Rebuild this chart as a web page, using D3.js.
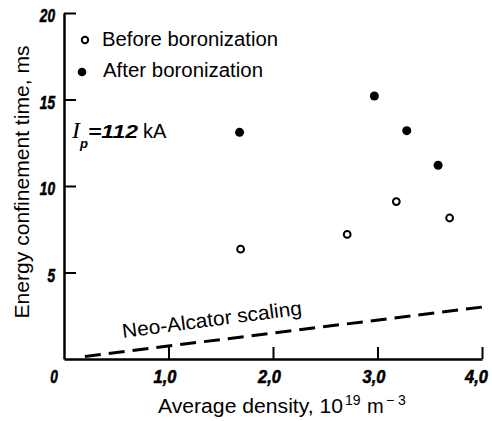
<!DOCTYPE html>
<html>
<head>
<meta charset="utf-8">
<script src="https://cdn.jsdelivr.net/npm/d3@7"></script>
<style>
  html, body { margin: 0; padding: 0; background: #fff; }
  svg { display: block; }
</style>
</head>
<body>
<svg id="chart" width="492" height="421"></svg>
<script>
// ---- data ----
const beforeDensity = [1.69, 2.71, 3.18, 3.69];
const beforeTau     = [6.35, 7.2, 9.1, 8.15];
const afterDensity  = [1.68, 2.97, 3.28, 3.58];
const afterTau      = [13.1, 15.2, 13.2, 11.2];
const neoAlcatorDensity = [0.2, 4.0];
const neoAlcatorTau     = [0.15, 3.0];
const xTicks = [1, 2, 3, 4];
const xTickLabels = ["1,0", "2,0", "3,0", "4,0"];
const yTicks = [5, 10, 15, 20];
const yTickLabels = ["5", "10", "15", "20"];
const legendLabels = ["Before boronization", "After boronization"];

const svg = d3.select("#chart");
svg.append("rect").attr("width", 492).attr("height", 421).attr("fill", "#fff");

const x = d3.scaleLinear().domain([0, 4]).range([64, 482]);
const y = d3.scaleLinear().domain([0, 20]).range([359, 13]);

const tickFont = "'Liberation Sans', Arial, sans-serif";
const textFont = "'Liberation Sans', Arial, sans-serif";
const narrowWidth = s => s.length * 7.6;

function styleTick(sel) {
  sel.attr("font-family", tickFont).attr("font-size", 19)
    .attr("font-weight", "bold").attr("font-style", "italic")
    .attr("fill", "#000").attr("stroke", "#000").attr("stroke-width", 0.6)
    .attr("lengthAdjust", "spacingAndGlyphs")
    .attr("textLength", function () { return narrowWidth(this.textContent); });
}

// x axis
const xAxis = d3.axisBottom(x)
  .tickValues(xTicks)
  .tickFormat((d, i) => xTickLabels[i])
  .tickSizeInner(-12).tickSizeOuter(0).tickPadding(11);
const gx = svg.append("g").attr("transform", `translate(0,${y(0)})`).call(xAxis);
gx.select(".domain").attr("stroke-width", 2.5).attr("stroke", "#000");
gx.selectAll(".tick line").attr("stroke-width", 2).attr("stroke", "#000");
gx.selectAll(".tick text").call(styleTick)
  .attr("dx", (d, i) => i === xTicks.length - 1 ? -6 : -4);

// y axis
const yAxis = d3.axisLeft(y)
  .tickValues(yTicks)
  .tickFormat((d, i) => yTickLabels[i])
  .tickSizeInner(-12).tickSizeOuter(0).tickPadding(9);
const gy = svg.append("g").attr("transform", `translate(${x(0)},0)`).call(yAxis);
gy.select(".domain").attr("stroke-width", 2.5).attr("stroke", "#000");
gy.selectAll(".tick line").attr("stroke-width", 2).attr("stroke", "#000");
gy.selectAll(".tick text").call(styleTick).attr("dy", "0.45em");

// origin label
svg.append("text")
  .attr("x", x(0) - 10).attr("y", y(0) + 24)
  .attr("text-anchor", "middle")
  .text("0")
  .call(styleTick);

// Neo-Alcator dashed line
const line = d3.line().x(d => x(d[0])).y(d => y(d[1]));
svg.append("path")
  .datum(neoAlcatorDensity.map((d, i) => [d, neoAlcatorTau[i]]))
  .attr("d", line)
  .attr("fill", "none").attr("stroke", "#000")
  .attr("stroke-width", 3).attr("stroke-dasharray", "16,8");

// Neo-Alcator label
svg.append("text")
  .attr("transform", `translate(123,338) rotate(-7.5)`)
  .attr("font-family", textFont).attr("font-size", 20)
  .attr("textLength", 181).attr("lengthAdjust", "spacingAndGlyphs")
  .text("Neo-Alcator scaling");

// points
svg.append("g").selectAll("circle")
  .data(afterDensity.map((d, i) => [d, afterTau[i]]))
  .join("circle")
  .attr("cx", d => x(d[0])).attr("cy", d => y(d[1]))
  .attr("r", 4.5).attr("fill", "#000");

svg.append("g").selectAll("circle")
  .data(beforeDensity.map((d, i) => [d, beforeTau[i]]))
  .join("circle")
  .attr("cx", d => x(d[0])).attr("cy", d => y(d[1]))
  .attr("r", 3.4).attr("fill", "#fff").attr("stroke", "#000").attr("stroke-width", 2);

// legend
svg.append("circle").attr("cx", 85).attr("cy", 40).attr("r", 3.2)
  .attr("fill", "#fff").attr("stroke", "#000").attr("stroke-width", 2);
svg.append("text").attr("x", 102).attr("y", 46)
  .attr("font-family", textFont).attr("font-size", 20)
  .attr("textLength", 176).attr("lengthAdjust", "spacingAndGlyphs")
  .text(legendLabels[0]);
svg.append("circle").attr("cx", 82).attr("cy", 72).attr("r", 4.3).attr("fill", "#000");
svg.append("text").attr("x", 103).attr("y", 77)
  .attr("font-family", textFont).attr("font-size", 20)
  .attr("textLength", 160).attr("lengthAdjust", "spacingAndGlyphs")
  .text(legendLabels[1]);

// Ip annotation (single text element)
const ip = svg.append("text").attr("x", 72).attr("y", 138);
ip.append("tspan")
  .attr("font-family", "'Liberation Serif', 'Times New Roman', serif")
  .attr("font-style", "italic").attr("font-size", 24).text("I");
ip.append("tspan")
  .attr("dx", 0).attr("dy", 10)
  .attr("font-family", tickFont).attr("font-weight", "bold")
  .attr("font-style", "italic").attr("font-size", 13).text("p");
ip.append("tspan")
  .attr("dx", 0).attr("dy", -10)
  .attr("font-family", tickFont).attr("font-weight", "bold")
  .attr("font-style", "italic").attr("font-size", 19)
  .attr("textLength", 50).attr("lengthAdjust", "spacingAndGlyphs")
  .text("=112");
ip.append("tspan")
  .attr("dx", 5)
  .attr("font-family", textFont).attr("font-size", 20).text("kA");

// y axis title
svg.append("text")
  .attr("transform", "translate(29,182) rotate(-90)")
  .attr("text-anchor", "middle")
  .attr("font-family", textFont).attr("font-size", 21)
  .attr("textLength", 273).attr("lengthAdjust", "spacingAndGlyphs")
  .text("Energy confinement time, ms");

// x axis title
const xt = svg.append("text").attr("x", 158).attr("y", 413)
  .attr("font-family", textFont).attr("font-size", 20);
xt.append("tspan")
  .attr("textLength", 185).attr("lengthAdjust", "spacingAndGlyphs")
  .text("Average density, 10");
xt.append("tspan").attr("x", 345).attr("dy", -8).attr("font-size", 14).text("19");
xt.append("tspan").attr("x", 367).attr("dy", 8).text("m");
xt.append("tspan").attr("x", 386).attr("dy", -8).attr("font-size", 14).text("\u2212 3");
</script>
</body>
</html>
